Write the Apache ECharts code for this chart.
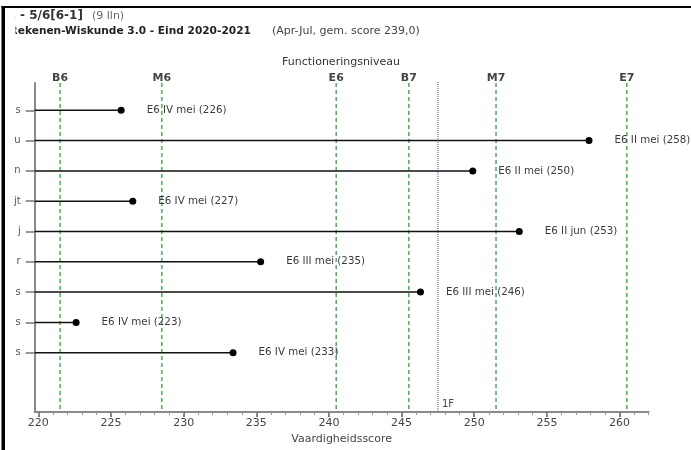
<!DOCTYPE html>
<html><head><meta charset="utf-8">
<script src="https://cdn.jsdelivr.net/npm/echarts@6/dist/echarts.min.js"></script>
<style>html,body{margin:0;padding:0;background:#fff}#c{width:691px;height:450px}</style>
</head><body><div id="c"></div>
<script>
// ---- data ----
const rowNames = ['s', 'u', 'n', 'jt', 'j', 'r', 's', 's', 's'];
const rowScores = [225.7, 257.9, 249.9, 226.5, 253.1, 235.3, 246.3, 222.6, 233.4];
const rowLevels = ['E6 IV mei', 'E6 II mei', 'E6 II mei', 'E6 IV mei', 'E6 II jun', 'E6 III mei', 'E6 III mei', 'E6 IV mei', 'E6 IV mei'];
const levelNames = ['B6', 'M6', 'E6', 'B7', 'M7', 'E7'];
const levelScores = [221.5, 228.5, 240.5, 245.5, 251.5, 260.5];
const refNames = ['1F'];
const refScores = [247.5];
const xTicks = [220, 225, 230, 235, 240, 245, 250, 255, 260];
const titleGroup = 's - 5/6[6-1]';
const titleCount = '(9 lln)';
const titleTest = 'Rekenen-Wiskunde 3.0 - Eind 2020-2021';
const titleInfo = '(Apr-Jul, gem. score 239,0)';
const levelAxisTitle = 'Functioneringsniveau';
const xAxisTitle = 'Vaardigheidsscore';

// ---- chart ----
const FONT = 'DejaVu Sans';
const X_MIN = 219.75, X_MAX = 262;
const Y_MIN = 0.1, Y_MAX = 10.96;
const rowIdx = rowScores.map((_, i) => i + 1);
const minorTicks = [];
for (let v = 220; v <= 262; v++) minorTicks.push(v);

const chart = echarts.init(document.getElementById('c'), null, {renderer: 'canvas'});
const option = {
  backgroundColor: '#fff',
  animation: false,
  textStyle: {fontFamily: FONT},
  grid: {left: 34.7, right: 42.4, top: 83, bottom: 34},
  xAxis: [{
    type: 'value', min: X_MIN, max: X_MAX,
    axisLine: {show: true, lineStyle: {color: '#8a8a8a', width: 2}},
    axisTick: {show: true, customValues: xTicks, length: 5, lineStyle: {color: '#555', width: 1.5}},
    axisLabel: {customValues: xTicks, fontSize: 11, color: '#444', fontFamily: FONT, margin: 6},
    splitLine: {show: false},
    name: xAxisTitle, nameLocation: 'middle', nameGap: 19,
    nameTextStyle: {fontSize: 11, color: '#444', fontFamily: FONT}
  }, {
    type: 'value', min: X_MIN, max: X_MAX, position: 'bottom',
    axisLine: {show: false},
    axisTick: {show: true, customValues: minorTicks, length: 3, lineStyle: {color: '#999', width: 1}},
    axisLabel: {show: false},
    splitLine: {show: false}
  }],
  yAxis: {
    type: 'value', inverse: true, min: Y_MIN, max: Y_MAX,
    axisLine: {show: true, lineStyle: {color: '#8a8a8a', width: 2}},
    axisTick: {show: true, customValues: rowIdx, length: 9, lineStyle: {color: '#777', width: 1.5}},
    axisLabel: {customValues: rowIdx, formatter: v => rowNames[Math.round(v) - 1] || '', fontSize: 10, color: '#555', fontFamily: FONT, margin: 14},
    splitLine: {show: false}
  },
  graphic: [
    {type: 'text', left: 8.7, top: 10, z: 10, style: {text: titleGroup, font: 'bold 12px "DejaVu Sans"', fill: '#333'}},
    {type: 'text', left: 92, top: 11, z: 10, style: {text: titleCount, font: '11px "DejaVu Sans"', fill: '#666'}},
    {type: 'text', left: 9.6, top: 26, z: 10, style: {text: titleTest, font: 'bold 10.6px "DejaVu Sans"', fill: '#222'}},
    {type: 'text', left: 272, top: 26, z: 10, style: {text: titleInfo, font: '11px "DejaVu Sans"', fill: '#444'}},
    {type: 'rect', shape: {x: 5, y: 8, width: 10.5, height: 36}, style: {fill: '#fff'}, z: 20},
    {type: 'text', x: 341, y: 62, z: 10, style: {text: levelAxisTitle, font: '11px "DejaVu Sans"', fill: '#333', textAlign: 'center', textVerticalAlign: 'middle'}},
    {type: 'rect', shape: {x: 1.5, y: 6, width: 3.5, height: 444}, style: {fill: '#000'}, z: 30},
    {type: 'rect', shape: {x: 1.5, y: 6, width: 690, height: 2}, style: {fill: '#000'}, z: 30}
  ],
  series: [
    {
      type: 'custom', name: 'levels', clip: false, z: 1,
      data: levelScores.map((v, i) => [v, i]),
      renderItem: (params, api) => {
        const v = api.value(0);
        const top = api.coord([v, Y_MIN]);
        const bot = api.coord([v, Y_MAX]);
        return {type: 'group', children: [
          {type: 'line', shape: {x1: top[0], y1: top[1], x2: bot[0], y2: bot[1]},
           style: {stroke: '#4caf50', lineWidth: 1.5, lineDash: [4, 3]}},
          {type: 'text', x: top[0], y: top[1] + 1,
           style: {text: levelNames[api.value(1)], font: 'bold 11px "DejaVu Sans"', fill: '#444', textAlign: 'center', textVerticalAlign: 'bottom'}}
        ]};
      }
    },
    {
      type: 'custom', name: 'ref', clip: false, z: 1,
      data: refScores.map((v, i) => [v, i]),
      renderItem: (params, api) => {
        const v = api.value(0);
        const top = api.coord([v, Y_MIN - 0.03]);
        const bot = api.coord([v, Y_MAX]);
        return {type: 'group', children: [
          {type: 'line', shape: {x1: top[0], y1: top[1], x2: bot[0], y2: bot[1]},
           style: {stroke: '#4a4acc', lineWidth: 1, lineDash: [1, 1]}},
          {type: 'text', x: bot[0] + 4, y: bot[1] - 3,
           style: {text: refNames[api.value(1)], font: '10px "DejaVu Sans"', fill: '#444', textAlign: 'left', textVerticalAlign: 'bottom'}}
        ]};
      }
    },
    {
      type: 'custom', name: 'rows', clip: false, z: 2,
      data: rowScores.map((v, i) => [v, i + 1]),
      renderItem: (params, api) => {
        const p0 = api.coord([X_MIN, api.value(1)]);
        const p1 = api.coord([api.value(0), api.value(1)]);
        return {type: 'line', shape: {x1: p0[0], y1: p0[1], x2: p1[0], y2: p1[1]},
                style: {stroke: '#111', lineWidth: 1.5}};
      }
    },
    {
      type: 'scatter', name: 'scores', z: 3,
      data: rowScores.map((v, i) => [v, i + 1]),
      symbol: 'circle', symbolSize: 7,
      itemStyle: {color: '#000', opacity: 1},
      label: {
        show: true, position: 'right', distance: 22,
        formatter: p => rowLevels[p.dataIndex] + ' (' + Math.round(p.value[0]) + ')',
        fontSize: 10.3, color: '#3a3a3a', fontFamily: FONT
      }
    }
  ]
};
chart.setOption(option);
</script>
</body></html>
